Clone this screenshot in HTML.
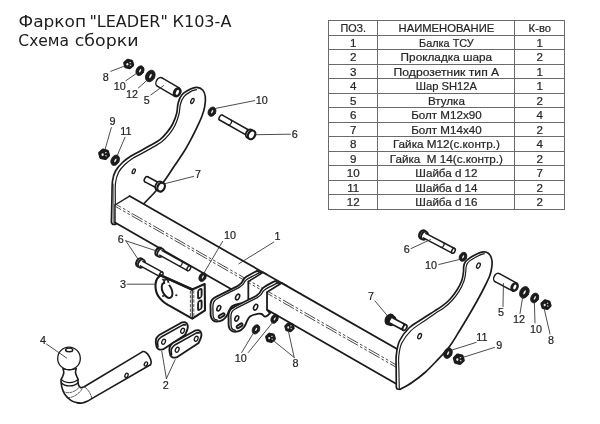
<!DOCTYPE html>
<html lang="ru"><head><meta charset="utf-8"><title>Фаркоп LEADER К103-А</title>
<style>html,body{margin:0;padding:0;background:#fff}body{width:600px;height:424px;overflow:hidden}svg{display:block;filter:grayscale(1)}text{font-family:"Liberation Sans",sans-serif}.ttl text{font-family:"DejaVu Sans","Liberation Sans",sans-serif}</style></head><body>
<svg width="600" height="424" viewBox="0 0 600 424">
<rect width="600" height="424" fill="#fff"/>
<g font-size="15.6" fill="#1c1c1c" class="ttl">
<text x="18.5" y="27.3" textLength="67.6" lengthAdjust="spacingAndGlyphs">Фаркоп</text>
<text x="89.4" y="27.3" textLength="78.4" lengthAdjust="spacingAndGlyphs">"LEADER"</text>
<text x="172.5" y="27.3" textLength="58.9" lengthAdjust="spacingAndGlyphs">К103-А</text>
<text x="18.3" y="46.3" textLength="50.8" lengthAdjust="spacingAndGlyphs">Схема</text>
<text x="74.8" y="46.3" textLength="63.8" lengthAdjust="spacingAndGlyphs">сборки</text>
</g>
<g stroke="#6a6a6a" stroke-width="1.05" fill="none" shape-rendering="crispEdges">
<line x1="328" y1="20.5" x2="565" y2="20.5"/>
<line x1="328" y1="35.5" x2="565" y2="35.5"/>
<line x1="328" y1="49.5" x2="565" y2="49.5"/>
<line x1="328" y1="64.5" x2="565" y2="64.5"/>
<line x1="328" y1="78.5" x2="565" y2="78.5"/>
<line x1="328" y1="93.5" x2="565" y2="93.5"/>
<line x1="328" y1="107.5" x2="565" y2="107.5"/>
<line x1="328" y1="122.5" x2="565" y2="122.5"/>
<line x1="328" y1="136.5" x2="565" y2="136.5"/>
<line x1="328" y1="151.5" x2="565" y2="151.5"/>
<line x1="328" y1="165.5" x2="565" y2="165.5"/>
<line x1="328" y1="180.5" x2="565" y2="180.5"/>
<line x1="328" y1="194.5" x2="565" y2="194.5"/>
<line x1="328" y1="209.5" x2="565" y2="209.5"/>
<line x1="328.5" y1="20" x2="328.5" y2="210"/>
<line x1="377.5" y1="20" x2="377.5" y2="210"/>
<line x1="514.5" y1="20" x2="514.5" y2="210"/>
<line x1="564.5" y1="20" x2="564.5" y2="210"/>
</g>
<g font-size="11.6" fill="#262626" stroke="#262626" stroke-width="0.22" text-anchor="middle">
<text x="353.3" y="31.8" xml:space="preserve" textLength="25.6" lengthAdjust="spacingAndGlyphs">ПОЗ.</text>
<text x="446.4" y="31.8" xml:space="preserve" textLength="95.6" lengthAdjust="spacingAndGlyphs">НАИМЕНОВАНИЕ</text>
<text x="539.8" y="31.8" xml:space="preserve" textLength="22.4" lengthAdjust="spacingAndGlyphs">К-во</text>
<text x="353.3" y="46.8" xml:space="preserve">1</text>
<text x="446.4" y="46.8" xml:space="preserve" textLength="54.6" lengthAdjust="spacingAndGlyphs">Балка ТСУ</text>
<text x="539.8" y="46.8" xml:space="preserve">1</text>
<text x="353.3" y="60.8" xml:space="preserve">2</text>
<text x="446.4" y="60.8" xml:space="preserve" textLength="91.6" lengthAdjust="spacingAndGlyphs">Прокладка шара</text>
<text x="539.8" y="60.8" xml:space="preserve">2</text>
<text x="353.3" y="75.8" xml:space="preserve">3</text>
<text x="446.4" y="75.8" xml:space="preserve" textLength="105.6" lengthAdjust="spacingAndGlyphs">Подрозетник тип А</text>
<text x="539.8" y="75.8" xml:space="preserve">1</text>
<text x="353.3" y="89.8" xml:space="preserve">4</text>
<text x="446.4" y="89.8" xml:space="preserve" textLength="61.2" lengthAdjust="spacingAndGlyphs">Шар SH12A</text>
<text x="539.8" y="89.8" xml:space="preserve">1</text>
<text x="353.3" y="104.8" xml:space="preserve">5</text>
<text x="446.4" y="104.8" xml:space="preserve" textLength="37" lengthAdjust="spacingAndGlyphs">Втулка</text>
<text x="539.8" y="104.8" xml:space="preserve">2</text>
<text x="353.3" y="118.8" xml:space="preserve">6</text>
<text x="446.4" y="118.8" xml:space="preserve" textLength="70.4" lengthAdjust="spacingAndGlyphs">Болт М12х90</text>
<text x="539.8" y="118.8" xml:space="preserve">4</text>
<text x="353.3" y="133.8" xml:space="preserve">7</text>
<text x="446.4" y="133.8" xml:space="preserve" textLength="70.4" lengthAdjust="spacingAndGlyphs">Болт М14х40</text>
<text x="539.8" y="133.8" xml:space="preserve">2</text>
<text x="353.3" y="147.8" xml:space="preserve">8</text>
<text x="446.4" y="147.8" xml:space="preserve" textLength="107" lengthAdjust="spacingAndGlyphs">Гайка М12(с.контр.)</text>
<text x="539.8" y="147.8" xml:space="preserve">4</text>
<text x="353.3" y="162.8" xml:space="preserve">9</text>
<text x="446.4" y="162.8" xml:space="preserve" textLength="113.2" lengthAdjust="spacingAndGlyphs">Гайка  М 14(с.контр.)</text>
<text x="539.8" y="162.8" xml:space="preserve">2</text>
<text x="353.3" y="176.8" xml:space="preserve">10</text>
<text x="446.4" y="176.8" xml:space="preserve" textLength="62.2" lengthAdjust="spacingAndGlyphs">Шайба d 12</text>
<text x="539.8" y="176.8" xml:space="preserve">7</text>
<text x="353.3" y="191.8" xml:space="preserve">11</text>
<text x="446.4" y="191.8" xml:space="preserve" textLength="62.2" lengthAdjust="spacingAndGlyphs">Шайба d 14</text>
<text x="539.8" y="191.8" xml:space="preserve">2</text>
<text x="353.3" y="205.8" xml:space="preserve">12</text>
<text x="446.4" y="205.8" xml:space="preserve" textLength="62.2" lengthAdjust="spacingAndGlyphs">Шайба d 16</text>
<text x="539.8" y="205.8" xml:space="preserve">2</text>
</g>
<g stroke-linecap="round" stroke-linejoin="round">
<path d="M111.4,222.5C111.48,218.75 111.72,206.92 111.9,200C112.08,193.08 111.9,185.83 112.5,181C113.1,176.17 113.83,174.08 115.5,171C117.17,167.92 119.92,165 122.5,162.5C125.08,160 128.08,157.88 131,156C133.92,154.12 136.83,152.93 140,151.2C143.17,149.47 146.67,147.53 150,145.6C153.33,143.67 157.17,141.8 160,139.6C162.83,137.4 164.88,135 167,132.4C169.12,129.8 171.08,127.18 172.7,124C174.32,120.82 175.78,116.85 176.7,113.3C177.62,109.75 177.32,105.8 178.2,102.7C179.08,99.6 180.03,96.93 182,94.7C183.97,92.47 187.55,90.53 190,89.3C192.45,88.07 194.58,87.18 196.7,87.3C198.82,87.42 201.27,88.47 202.7,90C204.13,91.53 204.97,93.72 205.3,96.5C205.63,99.28 205.25,103.45 204.7,106.7C204.15,109.95 203.23,112.67 202,116C200.77,119.33 198.85,123.37 197.3,126.7C195.75,130.03 194.75,132.12 192.7,136C190.65,139.88 187.95,145.17 185,150C182.05,154.83 178.33,160 175,165C171.67,170 168.33,175.5 165,180C161.67,184.5 158.58,188 155,192C151.42,196 145.42,202 143.5,204L130,215 L115.4,224.3 L112.6,224.3 Z" fill="#fff" stroke="#1b1b1b" stroke-width="1.69" />
<path d="M115.3,223.5C115.3,219.58 115.27,206.75 115.3,200C115.33,193.25 114.97,187.58 115.5,183C116.03,178.42 116.98,175.53 118.5,172.5C120.02,169.47 122.27,167.15 124.6,164.8C126.93,162.45 129.68,160.27 132.5,158.4C135.32,156.53 138.33,155.32 141.5,153.6C144.67,151.88 148.12,150.07 151.5,148.1C154.88,146.13 158.83,144.12 161.8,141.8C164.77,139.48 167.07,137 169.3,134.2C171.53,131.4 173.58,128.37 175.2,125C176.82,121.63 178.12,117.5 179,114C179.88,110.5 179.67,106.9 180.5,104C181.33,101.1 182.32,98.67 184,96.6C185.68,94.53 188.53,92.77 190.6,91.6C192.67,90.43 195.43,89.93 196.4,89.6" fill="none" stroke="#1b1b1b" stroke-width="1.23" />
<line x1="113.3" y1="184" x2="113.3" y2="223.4" stroke="#555" stroke-width="0.91" />
<ellipse cx="192.4" cy="101" rx="1.4" ry="2.6" transform="rotate(25 192.4 101)" fill="#fff" stroke="#1b1b1b" stroke-width="1.3"/>
<ellipse cx="133.75" cy="171.25" rx="1.3" ry="2.5" transform="rotate(25 133.75 171.25)" fill="#fff" stroke="#1b1b1b" stroke-width="1.3"/>
<ellipse cx="146.3" cy="179.3" rx="1.74" ry="2.9" transform="rotate(-152.19 146.3 179.3)" fill="#fff" stroke="#1b1b1b" stroke-width="1.56"/>
<path d="M160.35,183.44L147.65,176.74L144.95,181.86L157.65,188.56Z" fill="#fff" stroke="none"/>
<line x1="160.35" y1="183.44" x2="147.65" y2="176.74" stroke="#1b1b1b" stroke-width="1.56" />
<line x1="157.65" y1="188.56" x2="144.95" y2="181.86" stroke="#1b1b1b" stroke-width="1.56" />
<ellipse cx="159" cy="186" rx="3.48" ry="4.7" transform="rotate(-152.19 159 186)" fill="#fff" stroke="#1b1b1b" stroke-width="1.87"/>
<ellipse cx="161.12" cy="187.12" rx="3.48" ry="4.7" transform="rotate(-152.19 161.12 187.12)" fill="#fff" stroke="#1b1b1b" stroke-width="2.26"/>
<path d="M129.6,196.06L266.6,274.42L252,283.5L115,205Z" fill="#fff" stroke="none"/>
<path d="M115,205L252,283.5L252,301.1L115,222.6Z" fill="#fff" stroke="none"/>
<line x1="129.6" y1="196.06" x2="266.6" y2="274.42" stroke="#1b1b1b" stroke-width="1.76" />
<line x1="115" y1="222.6" x2="252" y2="301.1" stroke="#1b1b1b" stroke-width="1.76" />
<line x1="115" y1="205" x2="115" y2="222.6" stroke="#1b1b1b" stroke-width="1.43" />
<line x1="115" y1="205" x2="129.6" y2="196.06" stroke="#1b1b1b" stroke-width="1.43" />
<line x1="115.5" y1="204.04" x2="252" y2="282.25" stroke="#1e1e1e" stroke-width="0.81" stroke-dasharray="12.5 2.2 2.8 2.2 2.8 2.2" stroke-dashoffset="6" stroke-linecap="butt"/>
<line x1="115.5" y1="206.44" x2="252" y2="284.65" stroke="#1e1e1e" stroke-width="0.81" stroke-dasharray="12.5 2.2 2.8 2.2 2.8 2.2" stroke-dashoffset="6" stroke-linecap="butt"/>
<path d="M257,270.8C255.33,271.72 249.17,274.97 247,276.3C244.83,277.63 244.92,277.72 244,278.8C243.08,279.88 242.5,281.63 241.5,282.8C240.5,283.97 238.58,285.3 238,285.8L238,285.8C234.5,287.55 220.5,294.55 217,296.3L217,296.3C216.23,296.82 213.47,298.15 212.4,299.4C211.33,300.65 210.9,302.07 210.6,303.8C210.3,305.53 210.57,307.72 210.6,309.8C210.63,311.88 210.4,314.57 210.8,316.3C211.2,318.03 211.97,319.33 213,320.2C214.03,321.07 215.42,321.52 217,321.5C218.58,321.48 220.92,320.97 222.5,320.1C224.08,319.23 225.47,317.73 226.5,316.3C227.53,314.87 228.33,312.3 228.7,311.5L228.7,311.5C229.25,310.63 230.2,307.62 232,306.3C233.8,304.98 237.58,304.02 239.5,303.6C241.42,303.18 242.28,303.33 243.5,303.8C244.72,304.27 245.8,306.13 246.8,306.4C247.8,306.67 248.63,305.97 249.5,305.4C250.37,304.83 251.58,303.4 252,303L248.5,299.1 L248.5,281.5 L262.2,273.8 Z" fill="#fff" stroke="#1b1b1b" stroke-width="1.89" />
<path d="M260,272.4C258.08,273.4 250.93,277 248.5,278.4C246.07,279.8 246.32,279.8 245.4,280.8C244.48,281.8 244,283.3 243,284.4C242,285.5 240,286.9 239.4,287.4L239.4,287.4C235.9,289.17 221.9,296.23 218.4,298L218.4,298C217.73,298.5 215.3,299.87 214.4,301C213.5,302.13 213.23,303.17 213,304.8C212.77,306.43 212.97,308.92 213,310.8C213.03,312.68 212.93,314.72 213.2,316.1C213.47,317.48 213.92,318.43 214.6,319.1C215.28,319.77 216.85,319.93 217.3,320.1" fill="none" stroke="#1b1b1b" stroke-width="1.3" />
<ellipse cx="237.6" cy="297" rx="1.8" ry="3" transform="rotate(25 237.6 297)" fill="#fff" stroke="#1b1b1b" stroke-width="1.56"/>
<ellipse cx="218.8" cy="308.2" rx="1.7" ry="2.8" transform="rotate(25 218.8 308.2)" fill="#fff" stroke="#1b1b1b" stroke-width="1.56"/>
<g transform="rotate(-32 221.6 315.6)"><rect x="218.3" y="314.3" width="6.6" height="2.6" rx="1.3" fill="#e8e8e8" stroke="#1b1b1b" stroke-width="1.9"/></g>
<path d="M263.1,272.42L286.6,285.86L272,294.96L248.5,281.5Z" fill="#fff" stroke="none"/>
<path d="M248.5,281.5L272,294.96L272,312.56L248.5,299.1Z" fill="#fff" stroke="none"/>
<line x1="263.1" y1="272.42" x2="286.6" y2="285.86" stroke="#1b1b1b" stroke-width="1.76" />
<line x1="248.5" y1="299.1" x2="272" y2="312.56" stroke="#1b1b1b" stroke-width="1.76" />
<line x1="248.5" y1="281.5" x2="248.5" y2="299.1" stroke="#1b1b1b" stroke-width="1.43" />
<line x1="248.5" y1="281.5" x2="263.1" y2="272.42" stroke="#1b1b1b" stroke-width="1.43" />
<line x1="249" y1="280.53" x2="272" y2="293.71" stroke="#1e1e1e" stroke-width="0.81" stroke-dasharray="12.5 2.2 2.8 2.2 2.8 2.2" stroke-dashoffset="10.46" stroke-linecap="butt"/>
<line x1="249" y1="282.93" x2="272" y2="296.11" stroke="#1e1e1e" stroke-width="0.81" stroke-dasharray="12.5 2.2 2.8 2.2 2.8 2.2" stroke-dashoffset="10.46" stroke-linecap="butt"/>
<path d="M275,281C273.33,281.92 267.17,285.17 265,286.5C262.83,287.83 262.92,287.92 262,289C261.08,290.08 260.5,291.83 259.5,293C258.5,294.17 256.58,295.5 256,296L256,296C252.5,297.75 238.5,304.75 235,306.5L235,306.5C234.23,307.02 231.47,308.35 230.4,309.6C229.33,310.85 228.9,312.27 228.6,314C228.3,315.73 228.57,317.92 228.6,320C228.63,322.08 228.4,324.77 228.8,326.5C229.2,328.23 229.97,329.53 231,330.4C232.03,331.27 233.42,331.72 235,331.7C236.58,331.68 238.92,331.17 240.5,330.3C242.08,329.43 243.47,327.93 244.5,326.5C245.53,325.07 246.33,322.5 246.7,321.7L246.7,321.7C247.25,320.83 248.2,317.82 250,316.5C251.8,315.18 255.58,314.22 257.5,313.8C259.42,313.38 260.28,313.53 261.5,314C262.72,314.47 263.8,316.33 264.8,316.6C265.8,316.87 266.63,316.17 267.5,315.6C268.37,315.03 269.58,313.6 270,313.2L267.2,309.81 L267.2,292.21 L280.2,284 Z" fill="#fff" stroke="#1b1b1b" stroke-width="1.89" />
<path d="M278,282.6C276.08,283.6 268.93,287.2 266.5,288.6C264.07,290 264.32,290 263.4,291C262.48,292 262,293.5 261,294.6C260,295.7 258,297.1 257.4,297.6L257.4,297.6C253.9,299.37 239.9,306.43 236.4,308.2L236.4,308.2C235.73,308.7 233.3,310.07 232.4,311.2C231.5,312.33 231.23,313.37 231,315C230.77,316.63 230.97,319.12 231,321C231.03,322.88 230.93,324.92 231.2,326.3C231.47,327.68 231.92,328.63 232.6,329.3C233.28,329.97 234.85,330.13 235.3,330.3" fill="none" stroke="#1b1b1b" stroke-width="1.3" />
<ellipse cx="255.6" cy="307.2" rx="1.8" ry="3" transform="rotate(25 255.6 307.2)" fill="#fff" stroke="#1b1b1b" stroke-width="1.56"/>
<ellipse cx="236.8" cy="318.4" rx="1.7" ry="2.8" transform="rotate(25 236.8 318.4)" fill="#fff" stroke="#1b1b1b" stroke-width="1.56"/>
<g transform="rotate(-32 239.6 325.8)"><rect x="236.3" y="324.5" width="6.6" height="2.6" rx="1.3" fill="#e8e8e8" stroke="#1b1b1b" stroke-width="1.9"/></g>
<path d="M281.8,283.12L414.6,359.08L400,368.3L267.2,292.21Z" fill="#fff" stroke="none"/>
<path d="M267.2,292.21L400,368.3L400,385.9L267.2,309.81Z" fill="#fff" stroke="none"/>
<line x1="281.8" y1="283.12" x2="414.6" y2="359.08" stroke="#1b1b1b" stroke-width="1.76" />
<line x1="267.2" y1="309.81" x2="400" y2="385.9" stroke="#1b1b1b" stroke-width="1.76" />
<line x1="267.2" y1="292.21" x2="267.2" y2="309.81" stroke="#1b1b1b" stroke-width="1.43" />
<line x1="267.2" y1="292.21" x2="281.8" y2="283.12" stroke="#1b1b1b" stroke-width="1.43" />
<line x1="267.7" y1="291.25" x2="400" y2="367.05" stroke="#1e1e1e" stroke-width="0.81" stroke-dasharray="12.5 2.2 2.8 2.2 2.8 2.2" stroke-dashoffset="7.11" stroke-linecap="butt"/>
<line x1="267.7" y1="293.65" x2="400" y2="369.45" stroke="#1e1e1e" stroke-width="0.81" stroke-dasharray="12.5 2.2 2.8 2.2 2.8 2.2" stroke-dashoffset="7.11" stroke-linecap="butt"/>
<path d="M396.3,387.3C396.28,384.42 396.2,375.38 396.2,370C396.2,364.62 395.75,359.83 396.3,355C396.85,350.17 397.38,345.5 399.5,341C401.62,336.5 405.17,331.71 409,328C412.83,324.29 418.33,321.52 422.5,318.75C426.67,315.98 430.75,313.49 434,311.4C437.25,309.31 439.33,308.23 442,306.2C444.67,304.17 447.5,301.9 450,299.2C452.5,296.5 455.03,293.12 457,290C458.97,286.88 460.72,283.5 461.8,280.5C462.88,277.5 463.18,274.33 463.5,272C463.82,269.67 463.42,268.17 463.7,266.5C463.98,264.83 464.48,263.2 465.2,262C465.92,260.8 466.7,260.3 468,259.3C469.3,258.3 471,257.12 473,256C475,254.88 478.13,253.3 480,252.6C481.87,251.9 482.87,251.73 484.2,251.8C485.53,251.87 486.93,252.27 488,253C489.07,253.73 489.93,254.87 490.6,256.2C491.27,257.53 491.8,259.2 492,261C492.2,262.8 492.13,264.67 491.8,267C491.47,269.33 491.13,271.83 490,275C488.87,278.17 487.07,281.83 485,286C482.93,290.17 480.27,295.17 477.6,300C474.93,304.83 471.93,310 469,315C466.07,320 463.25,324.75 460,330C456.75,335.25 453.5,341.25 449.5,346.5C445.5,351.75 440.08,357.17 436,361.5C431.92,365.83 429,369 425,372.5C421,376 416.12,379.7 412,382.5C407.88,385.3 402.25,388.17 400.3,389.3L397.2,389 Z" fill="#fff" stroke="#1b1b1b" stroke-width="1.69" />
<path d="M399.3,388.6C399.23,385.5 398.98,375.43 398.9,370C398.82,364.57 398.32,360.5 398.8,356C399.28,351.5 399.77,347.23 401.8,343C403.83,338.77 407.3,334.23 411,330.6C414.7,326.97 419.97,324.07 424,321.2C428.03,318.33 431.97,315.57 435.2,313.4C438.43,311.23 440.67,310.27 443.4,308.2C446.13,306.13 449,303.8 451.6,301C454.2,298.2 456.93,294.73 459,291.4C461.07,288.07 462.88,284.15 464,281C465.12,277.85 465.35,274.83 465.7,272.5C466.05,270.17 465.82,268.52 466.1,267C466.38,265.48 466.75,264.47 467.4,263.4C468.05,262.33 468.73,261.57 470,260.6C471.27,259.63 473.17,258.6 475,257.6C476.83,256.6 479.42,255.23 481,254.6C482.58,253.97 483.92,253.93 484.5,253.8" fill="none" stroke="#1b1b1b" stroke-width="1.17" />
<ellipse cx="478.4" cy="265.6" rx="1.6" ry="2.8" transform="rotate(25 478.4 265.6)" fill="#fff" stroke="#1b1b1b" stroke-width="1.3"/>
<ellipse cx="419.6" cy="336.2" rx="1.6" ry="2.8" transform="rotate(25 419.6 336.2)" fill="#fff" stroke="#1b1b1b" stroke-width="1.3"/>
<ellipse cx="389.6" cy="319.5" rx="3.53" ry="4.9" transform="rotate(28.05 389.6 319.5)" fill="#1b1b1b" stroke="#1b1b1b" stroke-width="2.54"/>
<ellipse cx="392.07" cy="320.82" rx="2.94" ry="4.41" transform="rotate(28.05 392.07 320.82)" fill="#fff" stroke="#1b1b1b" stroke-width="2.37"/>
<path d="M390.13,323.18L403.39,330.25L406.21,324.95L392.95,317.89Z" fill="#fff" stroke="none"/>
<line x1="390.13" y1="323.18" x2="403.39" y2="330.25" stroke="#1b1b1b" stroke-width="1.69" />
<line x1="392.95" y1="317.89" x2="406.21" y2="324.95" stroke="#1b1b1b" stroke-width="1.69" />
<path d="M403.17,323.33 A1.8,3 28.05 0 1 400.35,328.63" fill="none" stroke="#1b1b1b" stroke-width="1.52"/>
<ellipse cx="404.8" cy="327.6" rx="1.8" ry="3" transform="rotate(28.05 404.8 327.6)" fill="#fff" stroke="#1b1b1b" stroke-width="1.69"/>
<path d="M132.62,64.99L129.75,67.69L125.83,66.7L124.78,63.01L127.65,60.31L131.57,61.3Z" fill="#1b1b1b" stroke="#1b1b1b" stroke-width="3.2" stroke-linejoin="round"/>
<ellipse cx="127.37" cy="64.31" rx="1.02" ry="1.22" transform="rotate(0 127.37 64.31)" fill="#ececec" stroke="none" stroke-width="0"/>
<ellipse cx="130.23" cy="62.57" rx="0.87" ry="0.61" transform="rotate(-20 130.23 62.57)" fill="#d2d2d2" stroke="none" stroke-width="0"/>
<ellipse cx="130.43" cy="65.33" rx="0.87" ry="0.61" transform="rotate(30 130.43 65.33)" fill="#c4c4c4" stroke="none" stroke-width="0"/>
<ellipse cx="140" cy="70.7" rx="3.8" ry="5.1" transform="rotate(27 140 70.7)" fill="#1b1b1b" stroke="#1b1b1b" stroke-width="0.78"/>
<ellipse cx="140.15" cy="70.7" rx="0.76" ry="1.94" transform="rotate(27 140.15 70.7)" fill="#f0f0f0" stroke="none" stroke-width="0"/>
<ellipse cx="150.3" cy="76" rx="4.5" ry="6.1" transform="rotate(27 150.3 76)" fill="#1b1b1b" stroke="#1b1b1b" stroke-width="0.78"/>
<ellipse cx="150.45" cy="76" rx="0.9" ry="2.32" transform="rotate(27 150.45 76)" fill="#f0f0f0" stroke="none" stroke-width="0"/>
<ellipse cx="159.6" cy="82" rx="3.38" ry="4.7" transform="rotate(30.34 159.6 82)" fill="#fff" stroke="#1b1b1b" stroke-width="1.43"/>
<path d="M157.23,86.06 L174.83,96.36 L179.57,88.24 L161.97,77.94 Z" fill="#fff" stroke="none"/>
<line x1="157.23" y1="86.06" x2="174.83" y2="96.36" stroke="#1b1b1b" stroke-width="1.43" />
<line x1="161.97" y1="77.94" x2="179.57" y2="88.24" stroke="#1b1b1b" stroke-width="1.43" />
<ellipse cx="177.2" cy="92.3" rx="3.38" ry="4.7" transform="rotate(30.34 177.2 92.3)" fill="#1b1b1b" stroke="#1b1b1b" stroke-width="1.43"/>
<ellipse cx="177.4" cy="92.3" rx="1.42" ry="2.63" transform="rotate(26.34 177.4 92.3)" fill="#fff" stroke="none" stroke-width="0"/>
<ellipse cx="212" cy="111.7" rx="3.7" ry="4.9" transform="rotate(27 212 111.7)" fill="#1b1b1b" stroke="#1b1b1b" stroke-width="0.78"/>
<ellipse cx="212.15" cy="111.7" rx="0.74" ry="1.86" transform="rotate(27 212.15 111.7)" fill="#f0f0f0" stroke="none" stroke-width="0"/>
<ellipse cx="221" cy="117.6" rx="1.68" ry="2.8" transform="rotate(-150.54 221 117.6)" fill="#fff" stroke="#1b1b1b" stroke-width="1.56"/>
<path d="M250.88,131.26L222.38,115.16L219.62,120.04L248.12,136.14Z" fill="#fff" stroke="none"/>
<line x1="250.88" y1="131.26" x2="222.38" y2="115.16" stroke="#1b1b1b" stroke-width="1.56" />
<line x1="248.12" y1="136.14" x2="219.62" y2="120.04" stroke="#1b1b1b" stroke-width="1.56" />
<path d="M228.17,124.87 A1.68,2.8 -150.54 0 0 230.93,119.99" fill="none" stroke="#1b1b1b" stroke-width="1.25"/>
<ellipse cx="249.5" cy="133.7" rx="3.4" ry="4.6" transform="rotate(-150.54 249.5 133.7)" fill="#fff" stroke="#1b1b1b" stroke-width="1.87"/>
<ellipse cx="251.59" cy="134.88" rx="3.4" ry="4.6" transform="rotate(-150.54 251.59 134.88)" fill="#fff" stroke="#1b1b1b" stroke-width="2.26"/>
<path d="M108.52,155.42L105.28,158.47L100.86,157.35L99.68,153.18L102.92,150.13L107.34,151.25Z" fill="#1b1b1b" stroke="#1b1b1b" stroke-width="3.2" stroke-linejoin="round"/>
<ellipse cx="102.64" cy="154.64" rx="1.12" ry="1.34" transform="rotate(0 102.64 154.64)" fill="#ececec" stroke="none" stroke-width="0"/>
<ellipse cx="105.78" cy="152.73" rx="0.95" ry="0.67" transform="rotate(-20 105.78 152.73)" fill="#d2d2d2" stroke="none" stroke-width="0"/>
<ellipse cx="106" cy="155.76" rx="0.95" ry="0.67" transform="rotate(30 106 155.76)" fill="#c4c4c4" stroke="none" stroke-width="0"/>
<ellipse cx="115.2" cy="160.3" rx="4" ry="5.5" transform="rotate(27 115.2 160.3)" fill="#1b1b1b" stroke="#1b1b1b" stroke-width="0.78"/>
<ellipse cx="115.35" cy="160.3" rx="0.8" ry="2.09" transform="rotate(27 115.35 160.3)" fill="#f0f0f0" stroke="none" stroke-width="0"/>
<ellipse cx="158.9" cy="251.8" rx="3.17" ry="4.4" transform="rotate(29.04 158.9 251.8)" fill="#fff" stroke="#1b1b1b" stroke-width="2.15"/>
<ellipse cx="160.82" cy="252.87" rx="3.17" ry="4.4" transform="rotate(29.04 160.82 252.87)" fill="#fff" stroke="#1b1b1b" stroke-width="1.86"/>
<path d="M159.56,255.14L187.54,270.67L190.06,266.13L162.09,250.59Z" fill="#fff" stroke="none"/>
<line x1="159.56" y1="255.14" x2="187.54" y2="270.67" stroke="#1b1b1b" stroke-width="1.43" />
<line x1="162.09" y1="250.59" x2="190.06" y2="266.13" stroke="#1b1b1b" stroke-width="1.43" />
<path d="M181.69,261.48 A1.56,2.6 29.04 0 1 179.17,266.03" fill="none" stroke="#1b1b1b" stroke-width="1.14"/>
<ellipse cx="188.8" cy="268.4" rx="1.56" ry="2.6" transform="rotate(29.04 188.8 268.4)" fill="#fff" stroke="#1b1b1b" stroke-width="1.43"/>
<ellipse cx="139.6" cy="262.5" rx="3.17" ry="4.4" transform="rotate(28.85 139.6 262.5)" fill="#fff" stroke="#1b1b1b" stroke-width="2.15"/>
<ellipse cx="141.53" cy="263.56" rx="3.17" ry="4.4" transform="rotate(28.85 141.53 263.56)" fill="#fff" stroke="#1b1b1b" stroke-width="1.86"/>
<path d="M140.27,265.84L159.95,276.68L162.45,272.12L142.78,261.28Z" fill="#fff" stroke="none"/>
<line x1="140.27" y1="265.84" x2="159.95" y2="276.68" stroke="#1b1b1b" stroke-width="1.43" />
<line x1="142.78" y1="261.28" x2="162.45" y2="272.12" stroke="#1b1b1b" stroke-width="1.43" />
<ellipse cx="161.2" cy="274.4" rx="1.56" ry="2.6" transform="rotate(28.85 161.2 274.4)" fill="#fff" stroke="#1b1b1b" stroke-width="1.43"/>
<path d="M160.5,275.3C159.95,275.85 158.02,277.22 157.2,278.6C156.38,279.98 155.82,281.7 155.6,283.6C155.38,285.5 155.57,288.1 155.9,290C156.23,291.9 156.88,293.57 157.6,295C158.32,296.43 159.13,297.4 160.2,298.6C161.27,299.8 162.63,301.1 164,302.2C165.37,303.3 167.67,304.7 168.4,305.2L192.3,318.6 L205,310.4 L204.7,284 L192.2,289.5 Z" fill="#fff" stroke="#1b1b1b" stroke-width="2.08" />
<line x1="160.6" y1="275.3" x2="192.2" y2="289.5" stroke="#1b1b1b" stroke-width="2.47" />
<line x1="192.2" y1="289.5" x2="192.3" y2="318.4" stroke="#1b1b1b" stroke-width="1.17" />
<line x1="190.4" y1="290.6" x2="190.4" y2="316.8" stroke="#1b1b1b" stroke-width="0.72" stroke-dasharray="3.2 1.3" stroke-linecap="butt"/>
<line x1="193.8" y1="290.4" x2="193.8" y2="316.8" stroke="#1b1b1b" stroke-width="0.72" stroke-dasharray="3.2 1.3" stroke-linecap="butt"/>
<rect x="198.1" y="289.2" width="3.5" height="8.8" rx="1.75" fill="#fff" stroke="#1b1b1b" stroke-width="1.9" transform="skewY(-23) translate(0 84.83)"/>
<rect x="198.1" y="300.8" width="3.5" height="8.8" rx="1.75" fill="#fff" stroke="#1b1b1b" stroke-width="1.9" transform="skewY(-23) translate(0 84.83)"/>
<ellipse cx="167.1" cy="290.3" rx="4.6" ry="8.1" transform="rotate(-25 167.1 290.3)" fill="#fff" stroke="#1b1b1b" stroke-width="1.95"/>
<path d="M164.5,284.6 L164.0,280.2 L167.6,279.3 L168.7,283.6" fill="#fff" stroke="#1b1b1b" stroke-width="1.69" />
<path d="M165.0,284.9 L168.4,284.0" fill="none" stroke="#fff" stroke-width="2.6" />
<ellipse cx="163" cy="279.6" rx="0.75" ry="0.75" transform="rotate(0 163 279.6)" fill="#1b1b1b" stroke="#1b1b1b" stroke-width="0.52"/>
<ellipse cx="176.2" cy="295.2" rx="0.75" ry="0.75" transform="rotate(0 176.2 295.2)" fill="#1b1b1b" stroke="#1b1b1b" stroke-width="0.52"/>
<ellipse cx="163" cy="296" rx="0.75" ry="0.75" transform="rotate(0 163 296)" fill="#1b1b1b" stroke="#1b1b1b" stroke-width="0.52"/>
<ellipse cx="202.6" cy="277" rx="3.4" ry="4.8" transform="rotate(27 202.6 277)" fill="#1b1b1b" stroke="#1b1b1b" stroke-width="0.78"/>
<ellipse cx="202.75" cy="277" rx="0.68" ry="1.82" transform="rotate(27 202.75 277)" fill="#f0f0f0" stroke="none" stroke-width="0"/>
<path d="M155.8,342.5C155.88,341.83 155.73,339.75 156.3,338.5C156.87,337.25 158.72,335.58 159.2,335L181.7,322.5L181.7,322.5C182.32,322.48 184.42,321.98 185.4,322.4C186.38,322.82 187.25,323.9 187.6,325C187.95,326.1 187.93,327.33 187.5,329C187.07,330.67 185.42,334 185,335L163.3,349.2L163.3,349.2C162.67,349.27 160.58,349.93 159.5,349.6C158.42,349.27 157.42,348.38 156.8,347.2C156.18,346.02 155.97,343.28 155.8,342.5Z" fill="#fff" stroke="#1b1b1b" stroke-width="1.89" />
<path d="M158,346.8C157.93,346.1 157.5,343.8 157.6,342.6C157.7,341.4 158,340.53 158.6,339.6C159.2,338.67 160.77,337.43 161.2,337L183,324.9L185.6,324.9" fill="none" stroke="#1b1b1b" stroke-width="1.62" />
<ellipse cx="163.6" cy="341.8" rx="1.7" ry="2.6" transform="rotate(25 163.6 341.8)" fill="#fff" stroke="#1b1b1b" stroke-width="1.3"/>
<ellipse cx="182.6" cy="330.8" rx="1.7" ry="2.6" transform="rotate(25 182.6 330.8)" fill="#fff" stroke="#1b1b1b" stroke-width="1.3"/>
<path d="M169.4,350.5C169.48,349.83 169.33,347.75 169.9,346.5C170.47,345.25 172.32,343.58 172.8,343L195.3,330.5L195.3,330.5C195.92,330.48 198.02,329.98 199,330.4C199.98,330.82 200.85,331.9 201.2,333C201.55,334.1 201.53,335.33 201.1,337C200.67,338.67 199.02,342 198.6,343L176.9,357.2L176.9,357.2C176.27,357.27 174.18,357.93 173.1,357.6C172.02,357.27 171.02,356.38 170.4,355.2C169.78,354.02 169.57,351.28 169.4,350.5Z" fill="#fff" stroke="#1b1b1b" stroke-width="1.89" />
<path d="M171.6,354.8C171.53,354.1 171.1,351.8 171.2,350.6C171.3,349.4 171.6,348.53 172.2,347.6C172.8,346.67 174.37,345.43 174.8,345L196.6,332.9L199.2,332.9" fill="none" stroke="#1b1b1b" stroke-width="1.62" />
<ellipse cx="177.2" cy="349.8" rx="1.7" ry="2.6" transform="rotate(25 177.2 349.8)" fill="#fff" stroke="#1b1b1b" stroke-width="1.3"/>
<ellipse cx="196.2" cy="338.8" rx="1.7" ry="2.6" transform="rotate(25 196.2 338.8)" fill="#fff" stroke="#1b1b1b" stroke-width="1.3"/>
<ellipse cx="146.4" cy="358.3" rx="3.4" ry="7.6" transform="rotate(-30 146.4 358.3)" fill="#fff" stroke="#1b1b1b" stroke-width="1.62"/>
<path d="M63,368.6C63.13,369.27 63.87,371.28 63.8,372.6C63.73,373.92 63.03,375.37 62.6,376.5C62.17,377.63 61.43,378.32 61.2,379.4C60.97,380.48 61.05,381.57 61.2,383C61.35,384.43 61.52,386.13 62.1,388C62.68,389.87 63.23,392.13 64.7,394.2C66.17,396.27 68.93,399 70.9,400.4C72.87,401.8 74.58,402.17 76.5,402.6C78.42,403.03 80.57,403.23 82.4,403C84.23,402.77 85.93,401.93 87.5,401.2C89.07,400.47 91.08,399.03 91.8,398.6L150.4,364.8 L142.7,351.6 L84.2,386.8L84.2,386.8C83.6,386.93 81.5,387.8 80.6,387.6C79.7,387.4 79.23,386.42 78.8,385.6C78.37,384.78 78.13,383.73 78,382.7C77.87,381.67 78.2,380.43 78,379.4C77.8,378.37 77.22,377.63 76.8,376.5C76.38,375.37 75.6,373.92 75.5,372.6C75.4,371.28 76.08,369.27 76.2,368.6Z" fill="#fff" stroke="none" stroke-width="0" />
<path d="M63,368.6C63.13,369.27 63.87,371.28 63.8,372.6C63.73,373.92 63.03,375.37 62.6,376.5C62.17,377.63 61.43,378.32 61.2,379.4C60.97,380.48 61.05,381.57 61.2,383C61.35,384.43 61.52,386.13 62.1,388C62.68,389.87 63.23,392.13 64.7,394.2C66.17,396.27 68.93,399 70.9,400.4C72.87,401.8 74.58,402.17 76.5,402.6C78.42,403.03 80.57,403.23 82.4,403C84.23,402.77 85.93,401.93 87.5,401.2C89.07,400.47 91.08,399.03 91.8,398.6L150.4,364.8" fill="none" stroke="#1b1b1b" stroke-width="1.62" />
<path d="M142.7,351.6 L84.2,386.8L84.2,386.8C83.6,386.93 81.5,387.8 80.6,387.6C79.7,387.4 79.23,386.42 78.8,385.6C78.37,384.78 78.13,383.73 78,382.7C77.87,381.67 78.2,380.43 78,379.4C77.8,378.37 77.22,377.63 76.8,376.5C76.38,375.37 75.6,373.92 75.5,372.6C75.4,371.28 76.08,369.27 76.2,368.6" fill="none" stroke="#1b1b1b" stroke-width="1.62" />
<ellipse cx="126.5" cy="375.4" rx="1.5" ry="2.2" transform="rotate(25 126.5 375.4)" fill="#fff" stroke="#1b1b1b" stroke-width="1.3"/>
<ellipse cx="145.9" cy="364" rx="1.5" ry="2.2" transform="rotate(25 145.9 364)" fill="#fff" stroke="#1b1b1b" stroke-width="1.3"/>
<path d="M61.2,379.4 C65,383.6 74,383.6 78,379.4" fill="none" stroke="#1b1b1b" stroke-width="1.3" />
<path d="M61.3,382.8 C65,387 74,387 78,382.8" fill="none" stroke="#1b1b1b" stroke-width="1.3" />
<path d="M62.8,391 C67,394.4 75,392.6 79.4,387" fill="none" stroke="#1b1b1b" stroke-width="0.72" stroke-dasharray="2.4 1.3"/>
<path d="M67.6,397.8 C73,397.6 79,394.4 82.6,388" fill="none" stroke="#1b1b1b" stroke-width="0.72" stroke-dasharray="2.4 1.3"/>
<path d="M84.8,387.2 C88.2,389.6 90.8,393.6 91.8,398.4" fill="none" stroke="#1b1b1b" stroke-width="0.78" stroke-dasharray="2.4 1.3"/>
<circle cx="69" cy="358.4" r="11.3" fill="#fff" stroke="#1b1b1b" stroke-width="1.3"/>
<ellipse cx="69.2" cy="349.9" rx="3.6" ry="1.8" transform="rotate(0 69.2 349.9)" fill="#fff" stroke="#1b1b1b" stroke-width="1.43"/>
<path d="M63.2,368.8 C66,370.2 73,370.2 76,368.8" fill="none" stroke="#1b1b1b" stroke-width="1.17" />
<ellipse cx="256" cy="329.4" rx="3.5" ry="4.9" transform="rotate(27 256 329.4)" fill="#1b1b1b" stroke="#1b1b1b" stroke-width="0.78"/>
<ellipse cx="256.15" cy="329.4" rx="0.7" ry="1.86" transform="rotate(27 256.15 329.4)" fill="#f0f0f0" stroke="none" stroke-width="0"/>
<ellipse cx="274.6" cy="318.8" rx="3.4" ry="4.8" transform="rotate(27 274.6 318.8)" fill="#1b1b1b" stroke="#1b1b1b" stroke-width="0.78"/>
<ellipse cx="274.75" cy="318.8" rx="0.68" ry="1.82" transform="rotate(27 274.75 318.8)" fill="#f0f0f0" stroke="none" stroke-width="0"/>
<path d="M293.12,328.11L290.47,330.61L286.85,329.69L285.88,326.29L288.53,323.79L292.15,324.71Z" fill="#1b1b1b" stroke="#1b1b1b" stroke-width="3.2" stroke-linejoin="round"/>
<ellipse cx="288.25" cy="327.49" rx="0.96" ry="1.15" transform="rotate(0 288.25 327.49)" fill="#ececec" stroke="none" stroke-width="0"/>
<ellipse cx="290.94" cy="325.86" rx="0.82" ry="0.58" transform="rotate(-20 290.94 325.86)" fill="#d2d2d2" stroke="none" stroke-width="0"/>
<ellipse cx="291.13" cy="328.45" rx="0.82" ry="0.58" transform="rotate(30 291.13 328.45)" fill="#c4c4c4" stroke="none" stroke-width="0"/>
<path d="M274.32,338.76L271.52,341.4L267.71,340.43L266.68,336.84L269.48,334.2L273.29,335.17Z" fill="#1b1b1b" stroke="#1b1b1b" stroke-width="3.2" stroke-linejoin="round"/>
<ellipse cx="269.2" cy="338.1" rx="1" ry="1.2" transform="rotate(0 269.2 338.1)" fill="#ececec" stroke="none" stroke-width="0"/>
<ellipse cx="272" cy="336.4" rx="0.85" ry="0.6" transform="rotate(-20 272 336.4)" fill="#d2d2d2" stroke="none" stroke-width="0"/>
<ellipse cx="272.2" cy="339.1" rx="0.85" ry="0.6" transform="rotate(30 272.2 339.1)" fill="#c4c4c4" stroke="none" stroke-width="0"/>
<ellipse cx="422.6" cy="234.6" rx="3.1" ry="4.3" transform="rotate(27.74 422.6 234.6)" fill="#fff" stroke="#1b1b1b" stroke-width="2.34"/>
<ellipse cx="424.55" cy="235.62" rx="3.1" ry="4.3" transform="rotate(27.74 424.55 235.62)" fill="#fff" stroke="#1b1b1b" stroke-width="2.03"/>
<path d="M423.34,237.93L452.19,253.1L454.61,248.5L425.76,233.32Z" fill="#fff" stroke="none"/>
<line x1="423.34" y1="237.93" x2="452.19" y2="253.1" stroke="#1b1b1b" stroke-width="1.56" />
<line x1="425.76" y1="233.32" x2="454.61" y2="248.5" stroke="#1b1b1b" stroke-width="1.56" />
<path d="M443.52,242.67 A1.56,2.6 27.74 0 1 441.1,247.27" fill="none" stroke="#1b1b1b" stroke-width="1.25"/>
<ellipse cx="453.4" cy="250.8" rx="1.56" ry="2.6" transform="rotate(27.74 453.4 250.8)" fill="#fff" stroke="#1b1b1b" stroke-width="1.56"/>
<ellipse cx="463" cy="256.8" rx="3.6" ry="4.7" transform="rotate(27 463 256.8)" fill="#1b1b1b" stroke="#1b1b1b" stroke-width="0.78"/>
<ellipse cx="463.15" cy="256.8" rx="0.72" ry="1.79" transform="rotate(27 463.15 256.8)" fill="#f0f0f0" stroke="none" stroke-width="0"/>
<ellipse cx="497.2" cy="277.6" rx="3.24" ry="4.5" transform="rotate(28.38 497.2 277.6)" fill="#fff" stroke="#1b1b1b" stroke-width="1.43"/>
<path d="M495.06,281.56 L512.46,290.96 L516.74,283.04 L499.34,273.64 Z" fill="#fff" stroke="none"/>
<line x1="495.06" y1="281.56" x2="512.46" y2="290.96" stroke="#1b1b1b" stroke-width="1.43" />
<line x1="499.34" y1="273.64" x2="516.74" y2="283.04" stroke="#1b1b1b" stroke-width="1.43" />
<ellipse cx="514.6" cy="287" rx="3.24" ry="4.5" transform="rotate(28.38 514.6 287)" fill="#1b1b1b" stroke="#1b1b1b" stroke-width="1.43"/>
<ellipse cx="514.8" cy="287" rx="1.36" ry="2.52" transform="rotate(24.38 514.8 287)" fill="#fff" stroke="none" stroke-width="0"/>
<ellipse cx="524.4" cy="292.4" rx="4.5" ry="6.1" transform="rotate(27 524.4 292.4)" fill="#1b1b1b" stroke="#1b1b1b" stroke-width="0.78"/>
<ellipse cx="524.55" cy="292.4" rx="0.9" ry="2.32" transform="rotate(27 524.55 292.4)" fill="#f0f0f0" stroke="none" stroke-width="0"/>
<ellipse cx="534.7" cy="298" rx="3.8" ry="5.1" transform="rotate(27 534.7 298)" fill="#1b1b1b" stroke="#1b1b1b" stroke-width="0.78"/>
<ellipse cx="534.85" cy="298" rx="0.76" ry="1.94" transform="rotate(27 534.85 298)" fill="#f0f0f0" stroke="none" stroke-width="0"/>
<path d="M550.02,305.71L547.08,308.49L543.06,307.47L541.98,303.69L544.92,300.91L548.94,301.93Z" fill="#1b1b1b" stroke="#1b1b1b" stroke-width="3.2" stroke-linejoin="round"/>
<ellipse cx="544.65" cy="305.01" rx="1.04" ry="1.25" transform="rotate(0 544.65 305.01)" fill="#ececec" stroke="none" stroke-width="0"/>
<ellipse cx="547.56" cy="303.24" rx="0.88" ry="0.62" transform="rotate(-20 547.56 303.24)" fill="#d2d2d2" stroke="none" stroke-width="0"/>
<ellipse cx="547.77" cy="306.05" rx="0.88" ry="0.62" transform="rotate(30 547.77 306.05)" fill="#c4c4c4" stroke="none" stroke-width="0"/>
<ellipse cx="448" cy="353.2" rx="4" ry="5.5" transform="rotate(27 448 353.2)" fill="#1b1b1b" stroke="#1b1b1b" stroke-width="0.78"/>
<ellipse cx="448.15" cy="353.2" rx="0.8" ry="2.09" transform="rotate(27 448.15 353.2)" fill="#f0f0f0" stroke="none" stroke-width="0"/>
<path d="M463.22,360.32L459.98,363.37L455.56,362.25L454.38,358.08L457.62,355.03L462.04,356.15Z" fill="#1b1b1b" stroke="#1b1b1b" stroke-width="3.2" stroke-linejoin="round"/>
<ellipse cx="457.34" cy="359.54" rx="1.12" ry="1.34" transform="rotate(0 457.34 359.54)" fill="#ececec" stroke="none" stroke-width="0"/>
<ellipse cx="460.48" cy="357.63" rx="0.95" ry="0.67" transform="rotate(-20 460.48 357.63)" fill="#d2d2d2" stroke="none" stroke-width="0"/>
<ellipse cx="460.7" cy="360.66" rx="0.95" ry="0.67" transform="rotate(30 460.7 360.66)" fill="#c4c4c4" stroke="none" stroke-width="0"/>
<line x1="110.8" y1="71.3" x2="123.6" y2="66.4" stroke="#303030" stroke-width="0.86" />
<line x1="125.8" y1="80.8" x2="137.6" y2="72.6" stroke="#303030" stroke-width="0.86" />
<line x1="138.3" y1="88" x2="147.6" y2="79.8" stroke="#303030" stroke-width="0.86" />
<line x1="150.8" y1="95" x2="163.6" y2="85.6" stroke="#303030" stroke-width="0.86" />
<line x1="215.6" y1="108.4" x2="254.6" y2="100.6" stroke="#303030" stroke-width="0.86" />
<line x1="256" y1="134.7" x2="290.4" y2="134.2" stroke="#303030" stroke-width="0.86" />
<line x1="111.3" y1="127.6" x2="105.2" y2="149" stroke="#303030" stroke-width="0.86" />
<line x1="125" y1="137.2" x2="117.4" y2="155.2" stroke="#303030" stroke-width="0.86" />
<line x1="165.2" y1="183.6" x2="193.6" y2="176.4" stroke="#303030" stroke-width="0.86" />
<line x1="125.8" y1="240.8" x2="155.4" y2="250.6" stroke="#303030" stroke-width="0.86" />
<line x1="125.8" y1="240.8" x2="138.2" y2="259.4" stroke="#303030" stroke-width="0.86" />
<line x1="222.6" y1="241.4" x2="203.6" y2="273.6" stroke="#303030" stroke-width="0.86" />
<line x1="273.6" y1="242.2" x2="238.8" y2="263.8" stroke="#303030" stroke-width="0.86" />
<line x1="127" y1="284.2" x2="154.8" y2="284.2" stroke="#303030" stroke-width="0.86" />
<line x1="166.4" y1="378.6" x2="161.8" y2="351.2" stroke="#303030" stroke-width="0.86" />
<line x1="166.4" y1="378.6" x2="175.2" y2="359.6" stroke="#303030" stroke-width="0.86" />
<line x1="46.4" y1="344" x2="66.6" y2="358" stroke="#303030" stroke-width="0.86" />
<line x1="241.7" y1="352.5" x2="253.4" y2="333" stroke="#303030" stroke-width="0.86" />
<line x1="248.3" y1="352.5" x2="272.4" y2="322.8" stroke="#303030" stroke-width="0.86" />
<line x1="294.2" y1="357.5" x2="274.4" y2="341.4" stroke="#303030" stroke-width="0.86" />
<line x1="294.2" y1="357.5" x2="288.6" y2="332" stroke="#303030" stroke-width="0.86" />
<line x1="411" y1="248.6" x2="430.4" y2="239.6" stroke="#303030" stroke-width="0.86" />
<line x1="438.8" y1="264.5" x2="459" y2="259.6" stroke="#303030" stroke-width="0.86" />
<line x1="375" y1="301" x2="387.6" y2="316" stroke="#303030" stroke-width="0.86" />
<line x1="503" y1="306.6" x2="503.4" y2="283.4" stroke="#303030" stroke-width="0.86" />
<line x1="520" y1="313.6" x2="522.6" y2="297.4" stroke="#303030" stroke-width="0.86" />
<line x1="535" y1="323" x2="534.4" y2="302.4" stroke="#303030" stroke-width="0.86" />
<line x1="550" y1="334" x2="544.4" y2="309.6" stroke="#303030" stroke-width="0.86" />
<line x1="476.2" y1="342.4" x2="451.4" y2="350.2" stroke="#303030" stroke-width="0.86" />
<line x1="494.6" y1="347.4" x2="463.6" y2="357.2" stroke="#303030" stroke-width="0.86" />
</g>
<text x="105.8" y="80.59" font-size="10.8" text-anchor="middle" fill="#1e1e1e" stroke="#1e1e1e" stroke-width="0.2">8</text>
<text x="119.7" y="90.19" font-size="10.8" text-anchor="middle" fill="#1e1e1e" stroke="#1e1e1e" stroke-width="0.2">10</text>
<text x="132" y="97.59" font-size="10.8" text-anchor="middle" fill="#1e1e1e" stroke="#1e1e1e" stroke-width="0.2">12</text>
<text x="146.7" y="103.59" font-size="10.8" text-anchor="middle" fill="#1e1e1e" stroke="#1e1e1e" stroke-width="0.2">5</text>
<text x="261.7" y="104.19" font-size="10.8" text-anchor="middle" fill="#1e1e1e" stroke="#1e1e1e" stroke-width="0.2">10</text>
<text x="294.7" y="137.59" font-size="10.8" text-anchor="middle" fill="#1e1e1e" stroke="#1e1e1e" stroke-width="0.2">6</text>
<text x="112.5" y="125.19" font-size="10.8" text-anchor="middle" fill="#1e1e1e" stroke="#1e1e1e" stroke-width="0.2">9</text>
<text x="125.8" y="135.19" font-size="10.8" text-anchor="middle" fill="#1e1e1e" stroke="#1e1e1e" stroke-width="0.2">11</text>
<text x="198" y="178.39" font-size="10.8" text-anchor="middle" fill="#1e1e1e" stroke="#1e1e1e" stroke-width="0.2">7</text>
<text x="120.8" y="243.09" font-size="10.8" text-anchor="middle" fill="#1e1e1e" stroke="#1e1e1e" stroke-width="0.2">6</text>
<text x="230" y="238.89" font-size="10.8" text-anchor="middle" fill="#1e1e1e" stroke="#1e1e1e" stroke-width="0.2">10</text>
<text x="277.5" y="240.19" font-size="10.8" text-anchor="middle" fill="#1e1e1e" stroke="#1e1e1e" stroke-width="0.2">1</text>
<text x="122.9" y="288.09" font-size="10.8" text-anchor="middle" fill="#1e1e1e" stroke="#1e1e1e" stroke-width="0.2">3</text>
<text x="165.7" y="388.59" font-size="10.8" text-anchor="middle" fill="#1e1e1e" stroke="#1e1e1e" stroke-width="0.2">2</text>
<text x="43" y="343.69" font-size="10.8" text-anchor="middle" fill="#1e1e1e" stroke="#1e1e1e" stroke-width="0.2">4</text>
<text x="240.8" y="361.89" font-size="10.8" text-anchor="middle" fill="#1e1e1e" stroke="#1e1e1e" stroke-width="0.2">10</text>
<text x="295.5" y="367.19" font-size="10.8" text-anchor="middle" fill="#1e1e1e" stroke="#1e1e1e" stroke-width="0.2">8</text>
<text x="406.8" y="253.39" font-size="10.8" text-anchor="middle" fill="#1e1e1e" stroke="#1e1e1e" stroke-width="0.2">6</text>
<text x="431" y="268.89" font-size="10.8" text-anchor="middle" fill="#1e1e1e" stroke="#1e1e1e" stroke-width="0.2">10</text>
<text x="371" y="299.89" font-size="10.8" text-anchor="middle" fill="#1e1e1e" stroke="#1e1e1e" stroke-width="0.2">7</text>
<text x="501" y="315.89" font-size="10.8" text-anchor="middle" fill="#1e1e1e" stroke="#1e1e1e" stroke-width="0.2">5</text>
<text x="519" y="322.89" font-size="10.8" text-anchor="middle" fill="#1e1e1e" stroke="#1e1e1e" stroke-width="0.2">12</text>
<text x="536" y="332.89" font-size="10.8" text-anchor="middle" fill="#1e1e1e" stroke="#1e1e1e" stroke-width="0.2">10</text>
<text x="551" y="343.89" font-size="10.8" text-anchor="middle" fill="#1e1e1e" stroke="#1e1e1e" stroke-width="0.2">8</text>
<text x="481.8" y="340.89" font-size="10.8" text-anchor="middle" fill="#1e1e1e" stroke="#1e1e1e" stroke-width="0.2">11</text>
<text x="499.3" y="348.89" font-size="10.8" text-anchor="middle" fill="#1e1e1e" stroke="#1e1e1e" stroke-width="0.2">9</text>
</svg></body></html>
